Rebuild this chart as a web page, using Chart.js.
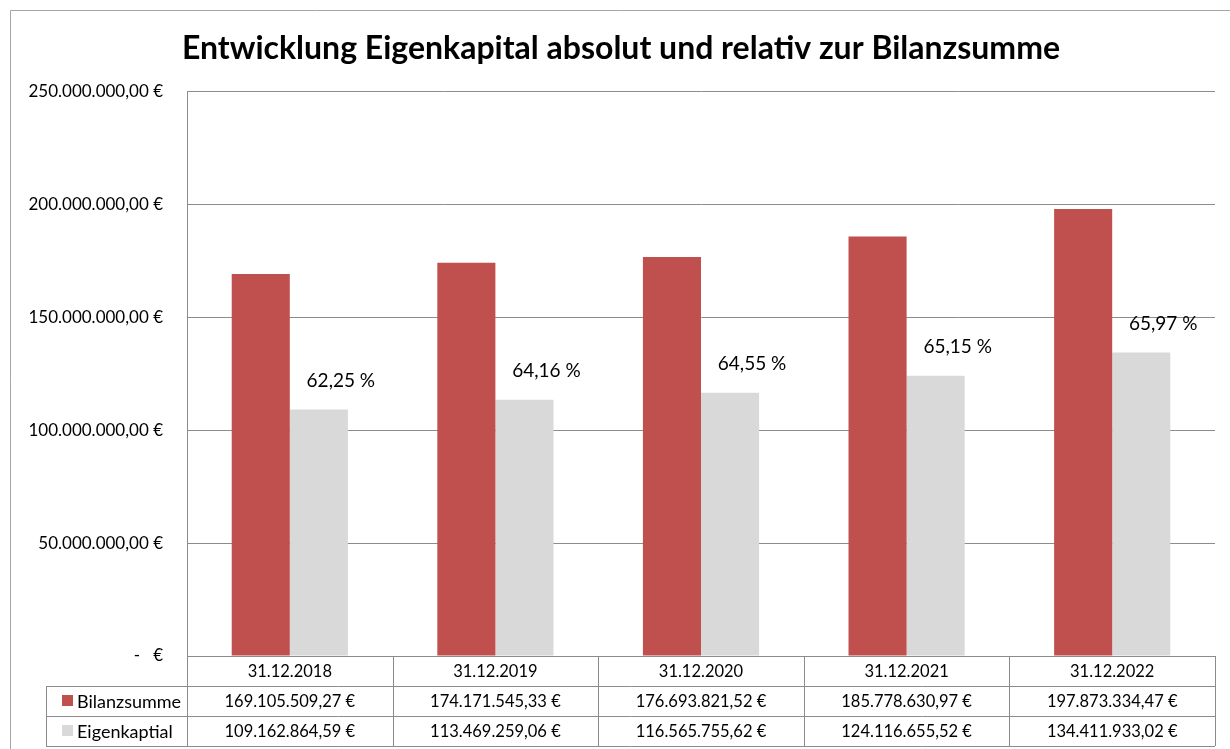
<!DOCTYPE html>
<html>
<head>
<meta charset="utf-8">
<script src="https://cdn.jsdelivr.net/npm/chart.js@4.4.1/dist/chart.umd.min.js"></script>
<style>
  html, body { margin: 0; padding: 0; background: #fff; }
</style>
</head>
<body>
<canvas id="myChart" width="1230" height="749"></canvas>
<script>
const categories = ['31.12.2018', '31.12.2019', '31.12.2020', '31.12.2021', '31.12.2022'];
const bilanzsumme = [169105509.27, 174171545.33, 176693821.52, 185778630.97, 197873334.47];
const eigenkapital = [109162864.59, 113469259.06, 116565755.62, 124116655.52, 134411933.02];
const percentLabels = ['62,25 %', '64,16 %', '64,55 %', '65,15 %', '65,97 %'];
const seriesNames = ['Bilanzsumme', 'Eigenkaptial'];
const seriesColors = ['#C0504D', '#D9D9D9'];

const FONT = 'Lato, "Open Sans", sans-serif';
const lineColor = '#8c8c8c';

const euro = new Intl.NumberFormat('de-DE', { minimumFractionDigits: 2, maximumFractionDigits: 2 });
function fmtEuro(v) {
  if (v === 0) return '-   €';
  return euro.format(v) + ' €';
}

// draws the data table, outer frame and percent labels
const tablePlugin = {
  id: 'dataTable',
  afterDraw(chart) {
    const ctx = chart.ctx;
    const area = chart.chartArea;
    const n = categories.length;
    const colW = (area.right - area.left) / n;
    const rowH = 30;
    const top = area.bottom;
    const legendLeft = 46;

    ctx.save();
    // outer frame
    ctx.strokeStyle = '#a6a6a6';
    ctx.lineWidth = 1;
    ctx.beginPath();
    ctx.moveTo(10.5, 749);
    ctx.lineTo(10.5, 10.5);
    ctx.lineTo(1230, 10.5);
    ctx.stroke();

    // table lines
    ctx.strokeStyle = lineColor;
    ctx.beginPath();
    ctx.moveTo(area.left, top + 0.5);
    ctx.lineTo(area.right, top + 0.5);
    for (let r = 1; r <= 3; r++) {
      const y = Math.round(top + r * rowH) + 0.5;
      ctx.moveTo(legendLeft, y);
      ctx.lineTo(area.right, y);
    }
    for (let c = 0; c <= n; c++) {
      const x = Math.round(area.left + c * colW) + 0.5;
      ctx.moveTo(x, top);
      ctx.lineTo(x, top + 3 * rowH);
    }
    ctx.moveTo(legendLeft + 0.5, top + rowH);
    ctx.lineTo(legendLeft + 0.5, top + 3 * rowH);
    ctx.stroke();

    ctx.fillStyle = '#000';
    ctx.font = '16.5px ' + FONT;
    ctx.textAlign = 'center';
    ctx.textBaseline = 'middle';
    const xs = chart.scales.x;
    categories.forEach((c, i) => {
      const cx = xs.getPixelForValue(i);
      ctx.fillText(c, cx, top + rowH / 2 + 1);
      ctx.fillText(fmtEuro(bilanzsumme[i]), cx, top + rowH * 1.5 + 1);
      ctx.fillText(fmtEuro(eigenkapital[i]), cx, top + rowH * 2.5 + 1);
    });

    // legend keys
    ctx.textAlign = 'left';
    ctx.font = '18px ' + FONT;
    seriesNames.forEach((name, k) => {
      const cy = top + rowH * (1.5 + k);
      ctx.fillStyle = seriesColors[k];
      ctx.fillRect(62, cy - 6, 11, 11);
      ctx.fillStyle = '#000';
      ctx.fillText(name, 77, cy + 1);
    });

    // percent labels above the equity bars
    ctx.font = '19px ' + FONT;
    ctx.textAlign = 'center';
    ctx.textBaseline = 'middle';
    const meta = chart.getDatasetMeta(1);
    meta.data.forEach((bar, i) => {
      ctx.fillText(percentLabels[i], bar.x + 22, bar.y - 29);
    });
    ctx.restore();
  }
};

const ctx = document.getElementById('myChart').getContext('2d');
const chart = new Chart(ctx, {
  type: 'bar',
  data: {
    labels: categories,
    datasets: [
      { label: seriesNames[0], data: bilanzsumme, backgroundColor: seriesColors[0] },
      { label: seriesNames[1], data: eigenkapital, backgroundColor: seriesColors[1] },
    ],
  },
  options: {
    responsive: false,
    animation: false,
    layout: { padding: { left: 27, right: 15, top: 0, bottom: 93 } },
    datasets: {
      bar: { categoryPercentage: 0.565, barPercentage: 1.0 },
    },
    plugins: {
      legend: { display: false },
      tooltip: { enabled: false },
      title: {
        display: true,
        text: 'Entwicklung Eigenkapital absolut und relativ zur Bilanzsumme',
        color: '#000',
        font: { family: FONT, size: 32, weight: 'bold', lineHeight: 1.2 },
        padding: { top: 29, bottom: 24 },
      },
    },
    scales: {
      x: { display: false },
      y: {
        min: 0,
        max: 250000000,
        afterFit(scale) { scale.width = 160; },
        grid: { color: lineColor, drawTicks: false },
        border: { color: lineColor },
        ticks: {
          stepSize: 50000000,
          padding: 24,
          color: '#000',
          font: { family: FONT, size: 17 },
          callback: (value) => fmtEuro(value),
        },
      },
    },
  },
  plugins: [tablePlugin],
});
</script>
</body>
</html>
